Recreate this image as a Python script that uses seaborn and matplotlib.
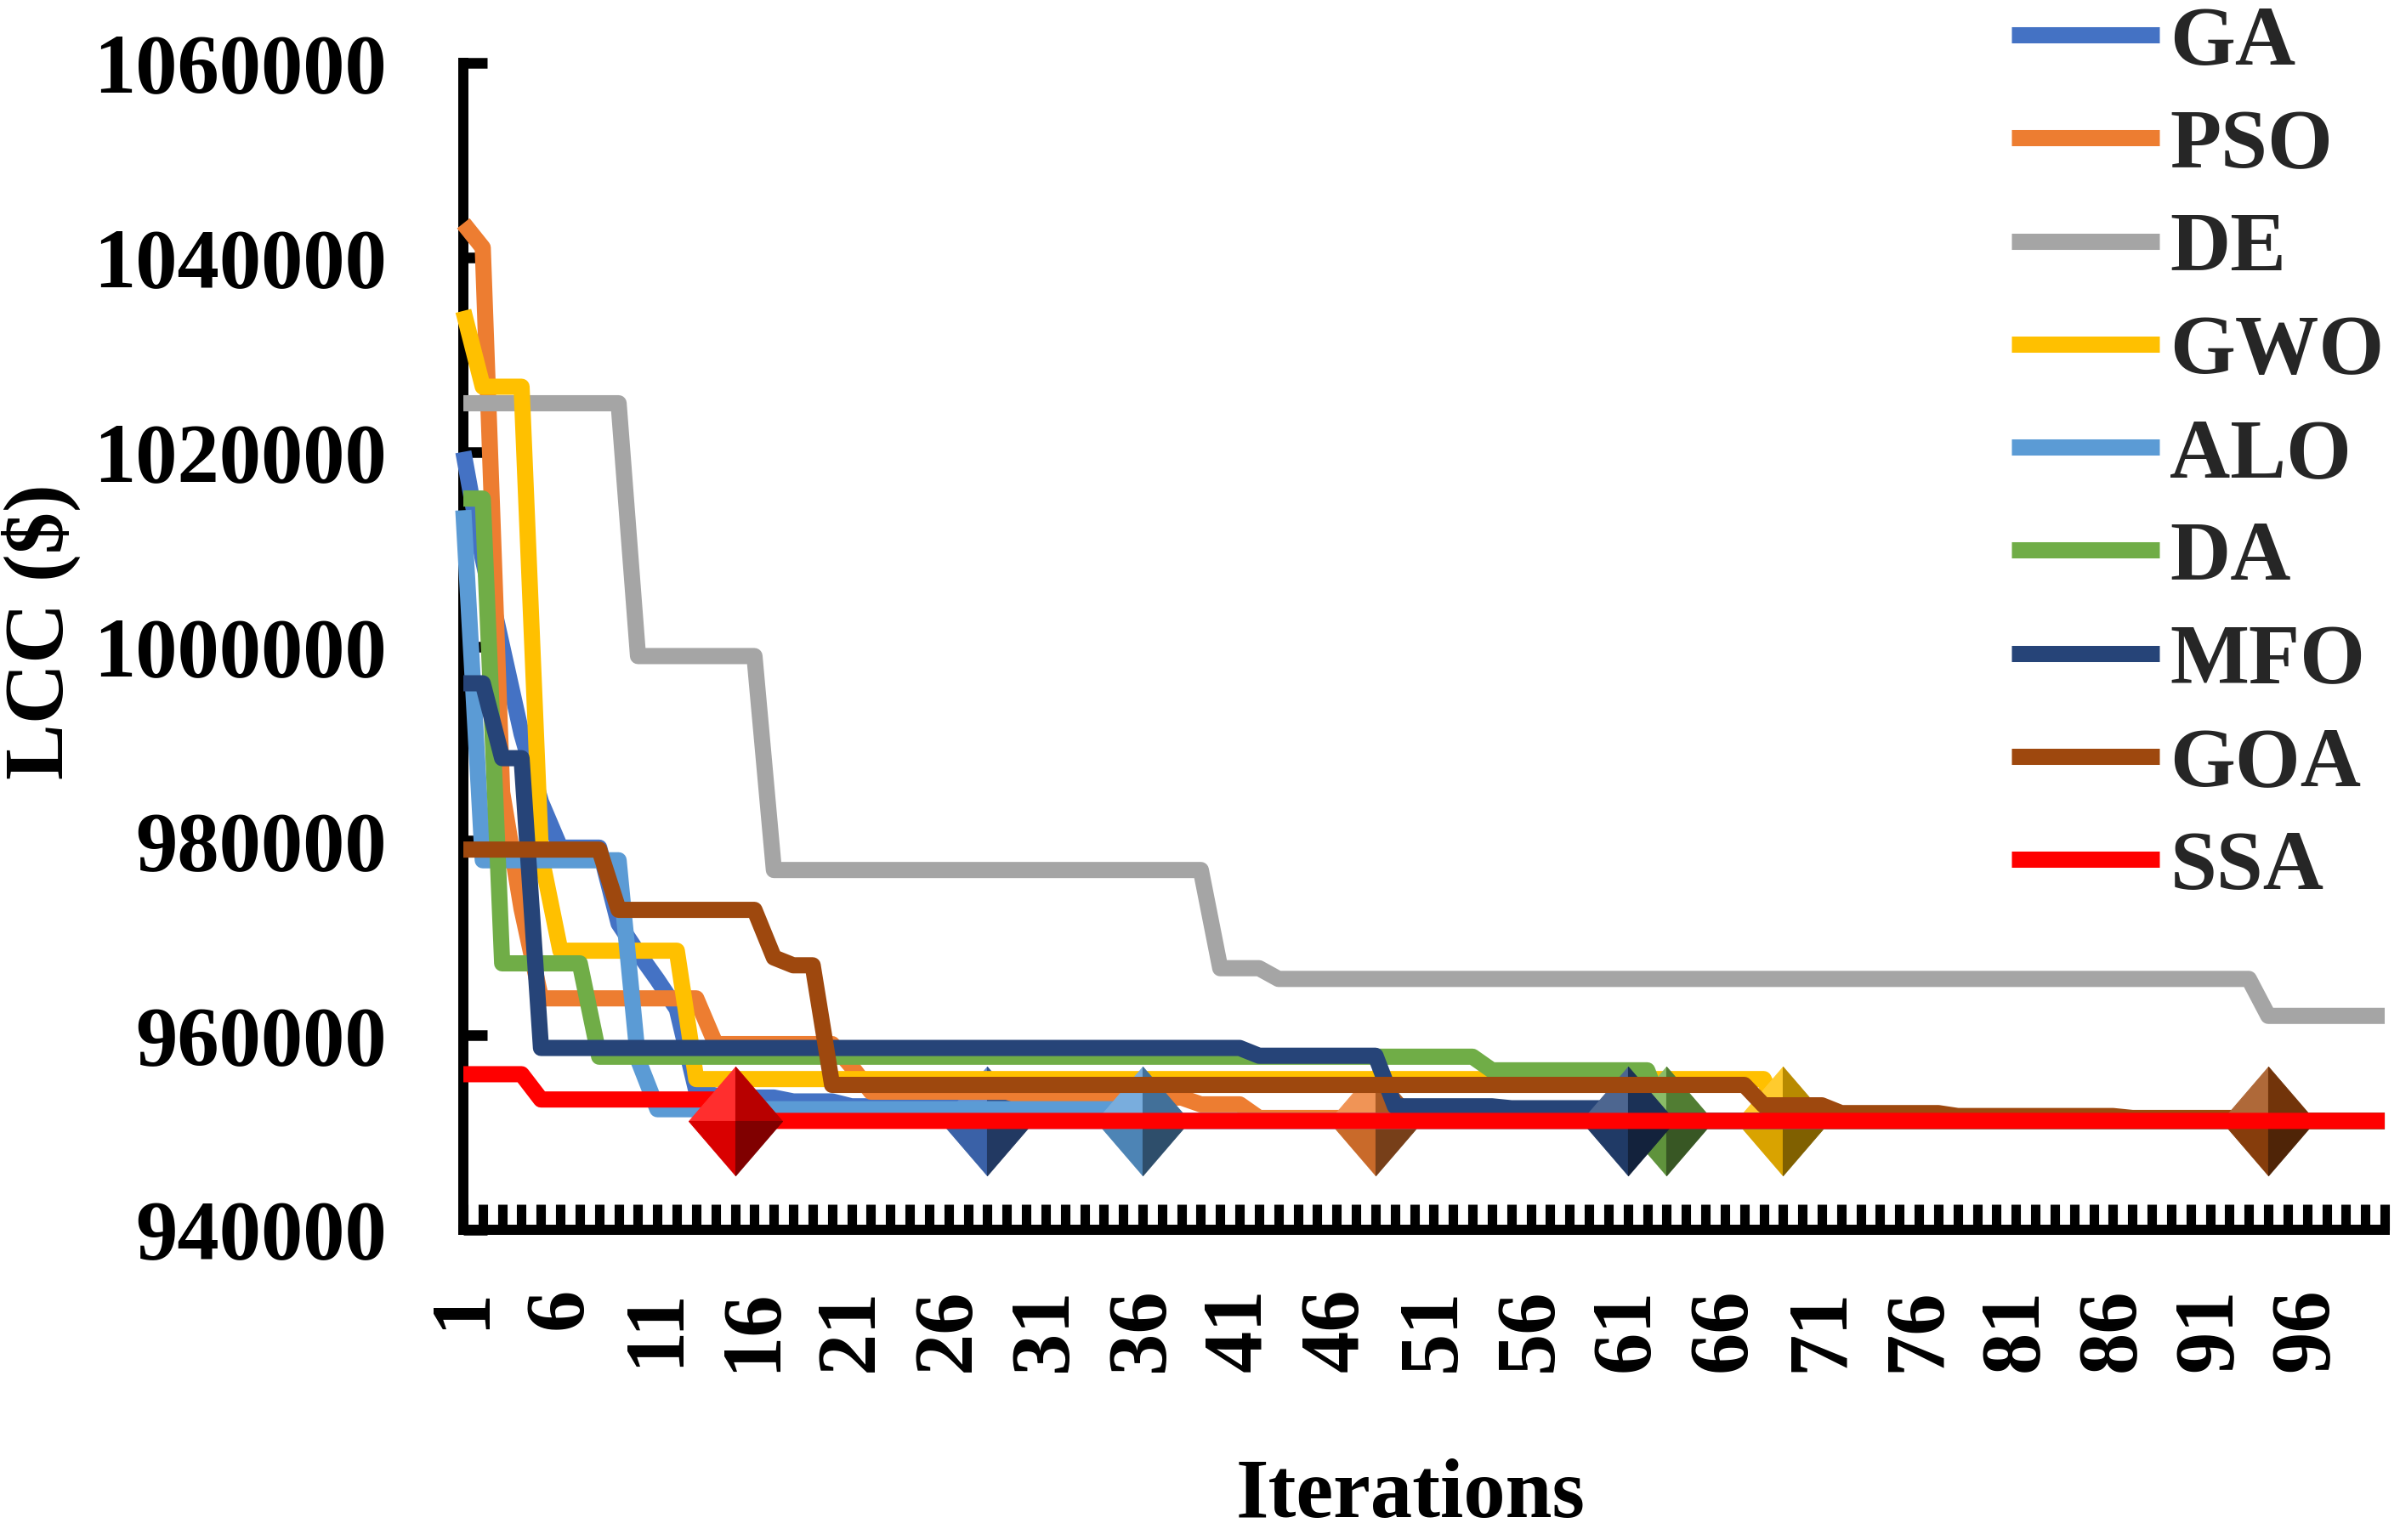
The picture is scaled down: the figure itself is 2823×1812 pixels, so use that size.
import pandas as pd
import matplotlib
matplotlib.use("Agg")
import matplotlib.pyplot as plt
import matplotlib.colors as mcolors
from matplotlib.path import Path
from matplotlib.ticker import FixedLocator, MultipleLocator
import seaborn as sns

# --- data ---
iterations = list(range(1, 101))
algorithms = ["GA", "PSO", "DE", "GWO", "ALO", "DA", "MFO", "GOA", "SSA"]
colors = ["#4472C4", "#ED7D31", "#A5A5A5", "#FFC000", "#5B9BD5",
          "#70AD47", "#264478", "#9E480E", "#FF0000"]

GA = ([1020000, 1009000, 1000000, 991000, 984000] + [979300] * 3
      + [971500, 968500, 965700, 962700, 954300, 953800] + [953600] * 3
      + [953200] * 3 + [952700] * 7 + [951200] * 73)
PSO = ([1043500, 1041000, 985000, 973000] + [963800] * 9 + [959100] * 7
       + [956800] + [954200] * 8 + [953600] * 9 + [952900] * 3
       + [951500] * 6 + [951200] * 53)
DE = ([1025000] * 9 + [999000] * 7 + [977000] * 23 + [966900] * 3
      + [965800] * 51 + [962000] * 7)
GWO = ([1034500] + [1026700] * 3 + [978500] + [968700] * 7
       + [955500] * 56 + [951200] * 32)
ALO = [1014000] + [978000] * 8 + [957500] + [952400] * 25 + [951200] * 65
DA = [1015200] * 2 + [967400] * 5 + [957800] * 46 + [956400] * 9 + [951200] * 38
MFO = ([996200] * 2 + [988500] * 2 + [958700] * 37 + [957900] * 7
       + [952700] * 6 + [952500] * 6 + [951200] * 40)
GOA = ([979100] * 8 + [972900] * 8 + [968000] + [967200] * 2 + [954900] * 48
       + [952800] * 4 + [952000] * 6 + [951700] * 9 + [951500] * 7 + [951200] * 7)
SSA = [956000] * 4 + [953400] * 10 + [951200] * 86

# iteration at which each algorithm gets its diamond marker (DE has none)
marker_iter = {"GA": 28, "PSO": 48, "GWO": 69, "ALO": 36,
               "DA": 63, "MFO": 61, "GOA": 94, "SSA": 15}

x_labels = iterations[::5]
y_ticks = [940000, 960000, 980000, 1000000, 1020000, 1040000, 1060000]

series = {"GA": GA, "PSO": PSO, "DE": DE, "GWO": GWO, "ALO": ALO,
          "DA": DA, "MFO": MFO, "GOA": GOA, "SSA": SSA}
for name, vals in series.items():
    assert len(vals) == 100, name

df = pd.concat(
    [pd.DataFrame({"Iteration": iterations, "LCC": series[n], "Algorithm": n})
     for n in algorithms],
    ignore_index=True,
)

# --- style ---
sns.set_theme(style="white")
plt.rcParams["font.family"] = ["Liberation Serif", "DejaVu Serif"]
plt.rcParams["font.weight"] = "bold"
plt.rcParams["axes.labelweight"] = "bold"
FS = 71

fig = plt.figure(figsize=(28.23, 18.12), dpi=100)
ax = fig.add_axes([0.19306, 0.20143, 0.80057, 0.75773])

palette = dict(zip(algorithms, colors))
sns.lineplot(data=df, x="Iteration", y="LCC", hue="Algorithm",
             hue_order=algorithms, palette=palette, estimator=None,
             sort=False, linewidth=13.7, legend=False, ax=ax,
             solid_joinstyle="round", solid_capstyle="butt", clip_on=False)

lines = list(ax.lines)
for i, ln in enumerate(lines):
    ln.set_zorder(3 + i)

# faceted "3D" diamond markers: four triangles with different shades
def tri(pts):
    return Path(pts + [(0, 0)], [Path.MOVETO, Path.LINETO, Path.LINETO, Path.CLOSEPOLY])

facets = [tri([(0, 0), (-0.86, 0), (0, 1)]),
          tri([(0, 0), (0, 1), (0.86, 0)]),
          tri([(0, 0), (-0.86, 0), (0, -1)]),
          tri([(0, 0), (0.86, 0), (0, -1)])]

def shades(c):
    r, g, b = mcolors.to_rgb(c)
    light = tuple(v + (1 - v) * 0.18 for v in (r, g, b))
    return [light,
            tuple(v * 0.72 for v in (r, g, b)),
            tuple(v * 0.85 for v in (r, g, b)),
            tuple(v * 0.5 for v in (r, g, b))]

for i, name in enumerate(algorithms):
    if name not in marker_iter:
        continue
    it = marker_iter[name]
    val = series[name][it - 1]
    for fpath, shade in zip(facets, shades(palette[name])):
        ax.plot([it], [val], linestyle="none", marker=fpath, markersize=92,
                markerfacecolor=shade, markeredgecolor=shade,
                markeredgewidth=0.8, zorder=3.5 + i, clip_on=False)

# --- axes ---
ax.set_xlim(1, 100)
ax.set_ylim(940000, 1060000)
ax.xaxis.set_major_locator(FixedLocator(x_labels))
ax.xaxis.set_minor_locator(MultipleLocator(1))
ax.set_xticklabels([str(v) for v in x_labels], rotation=90)
ax.set_yticks(y_ticks)
ax.set_yticklabels([str(v) for v in y_ticks])

ax.tick_params(axis="x", which="both", bottom=True, direction="in",
               length=21.6, width=8, color="black", pad=49,
               labelsize=FS, labelcolor="black")
ax.tick_params(axis="y", which="major", left=True, direction="in",
               length=20, width=9, color="black", pad=65,
               labelsize=FS, labelcolor="black")
ax.tick_params(axis="y", which="minor", left=False)

for side in ["top", "right"]:
    ax.spines[side].set_visible(False)
for side in ["left", "bottom"]:
    ax.spines[side].set_linewidth(8.6)
    ax.spines[side].set_color("black")

ax.set_xlabel("Iterations", fontsize=FS, fontweight="bold", color="black")
ax.set_ylabel("LCC ($)", fontsize=FS, fontweight="bold", color="black")
ax.xaxis.set_label_coords(0.493, -0.196)
ax.yaxis.set_label_coords(-0.199, 0.513)

leg = ax.legend(lines, algorithms, loc="upper left",
                bbox_to_anchor=(2366 / 2823, 0.9964), bbox_transform=fig.transFigure,
                frameon=False, prop={"size": FS, "weight": "bold"},
                handlelength=1.76, handletextpad=0.13, labelspacing=0.317,
                borderpad=0, borderaxespad=0)
leg.set_zorder(20)

fig.savefig("out.png", dpi=100)
